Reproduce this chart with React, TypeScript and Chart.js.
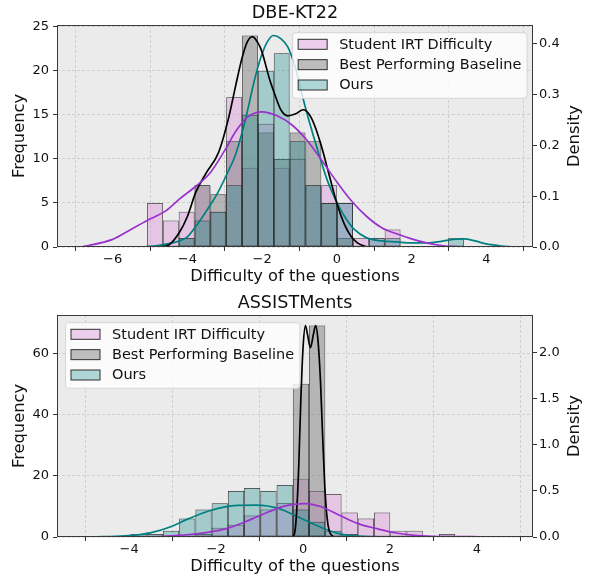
import React, { useEffect, useRef } from "react";
import { Chart, registerables } from "chart.js";

Chart.register(...registerables);

// ---------- shared ----------
const seriesLabels = ["Student IRT Difficulty", "Best Performing Baseline", "Ours"];
const xAxisLabel = "Difficulty of the questions";
const yLeftLabel = "Frequency";
const yRightLabel = "Density";

// ---------- DBE-KT22 ----------
const dbeTitle = "DBE-KT22";
const dbeBinStart = -5.08;
const dbeBinWidth = 0.424;
const dbeStudent = [5, 3, 4, 7, 4, 17, 9, 14, 9, 10, 7, 7, 5, 1, 1, 2, 0, 0, 0, 0];
const dbeBaseline = [0, 0, 1, 7, 6, 12, 24, 13, 10, 13, 12, 5, 1, 0, 0, 0, 0, 0, 0, 0];
const dbeOurs = [0, 0, 1, 3, 4, 7, 15, 20, 22, 12, 7, 5, 5, 0, 1, 1, 0, 0, 0, 1];

const dbeKdeStudentX = [-6.85, -6.0, -5.5, -5.0, -4.6, -4.2, -3.8, -3.4, -3.0, -2.7, -2.4, -2.0, -1.6, -1.2, -0.8, -0.4, 0.0, 0.4, 0.8, 1.2, 1.6, 2.0, 2.4, 2.8, 3.2, 3.5];
const dbeKdeStudentY = [0.0, 0.015, 0.035, 0.055, 0.07, 0.095, 0.118, 0.145, 0.19, 0.228, 0.255, 0.266, 0.258, 0.24, 0.21, 0.17, 0.128, 0.09, 0.06, 0.038, 0.026, 0.016, 0.008, 0.003, 0.001, 0.0];
const dbeKdeBaselineX = [-4.75, -4.5, -4.22, -4.0, -3.78, -3.51, -3.16, -2.9, -2.7, -2.54, -2.4, -2.26, -2.1, -2.01, -1.8, -1.66, -1.5, -1.31, -1.1, -0.9, -0.75, -0.6, -0.42, -0.2, 0.02, 0.2, 0.37, 0.55, 0.8];
const dbeKdeBaselineY = [0.0, 0.004, 0.028, 0.06, 0.107, 0.144, 0.187, 0.253, 0.32, 0.371, 0.403, 0.414, 0.4, 0.385, 0.33, 0.3, 0.27, 0.258, 0.262, 0.27, 0.262, 0.24, 0.2, 0.14, 0.081, 0.045, 0.022, 0.008, 0.0];
const dbeKdeOursX = [-5.2, -4.8, -4.4, -4.0, -3.78, -3.5, -3.2, -2.9, -2.72, -2.5, -2.37, -2.2, -2.01, -1.85, -1.7, -1.5, -1.31, -1.1, -0.95, -0.75, -0.51, -0.25, 0.02, 0.25, 0.46, 0.8, 1.2, 1.6, 2.0, 2.4, 2.8, 3.1, 3.4, 3.7, 4.0, 4.4, 4.7];
const dbeKdeOursY = [0.0, 0.003, 0.008, 0.02, 0.04, 0.07, 0.105, 0.15, 0.18, 0.235, 0.275, 0.33, 0.378, 0.405, 0.416, 0.41, 0.393, 0.35, 0.305, 0.25, 0.19, 0.13, 0.085, 0.055, 0.035, 0.018, 0.012, 0.01, 0.008, 0.008, 0.011, 0.015, 0.016, 0.012, 0.006, 0.002, 0.0];

const dbeXTicks = [-6, -4, -2, 0, 2, 4];
const dbeFreqTicks = [0, 5, 10, 15, 20, 25];
const dbeDensityTicks = [0, 0.1, 0.2, 0.3, 0.4];

// ---------- ASSISTMents ----------
const asTitle = "ASSISTMents";
const asBinStart = -3.97;
const asBinWidth = 0.3735;
const asStudent = [0, 0, 0, 0, 1, 3, 4, 7, 9, 11, 19, 15, 14, 8, 6, 8, 2, 2, 0, 1];
const asBaseline = [0, 0, 0, 0, 0, 0, 0, 0, 0, 0, 50, 69, 0, 0, 0, 0, 0, 0, 0, 0];
const asOurs = [1, 1, 2, 6, 9, 11, 15, 16, 15, 17, 9, 5, 2, 1, 0, 0, 0, 0, 0, 0];

const asKdeStudentX = [-3.75, -3.2, -2.63, -2.2, -1.76, -1.4, -1.07, -0.8, -0.55, -0.25, 0.05, 0.4, 0.84, 1.27, 1.7, 2.14, 2.57, 3.0, 3.44, 3.9, 4.3, 4.78];
const asKdeStudentY = [0.0, 0.008, 0.025, 0.05, 0.09, 0.15, 0.217, 0.27, 0.318, 0.35, 0.362, 0.33, 0.235, 0.145, 0.09, 0.043, 0.018, 0.008, 0.005, 0.003, 0.001, 0.0];
const asKdeBaselineX = [-0.26, -0.2, -0.15, -0.1, -0.05, 0.0, 0.055, 0.1, 0.17, 0.24, 0.29, 0.34, 0.4, 0.45, 0.5, 0.55, 0.6, 0.7];
const asKdeBaselineY = [0.0, 0.03, 0.25, 0.75, 1.5, 2.05, 2.29, 2.2, 2.05, 2.2, 2.29, 2.15, 1.7, 1.1, 0.55, 0.22, 0.07, 0.0];
const asKdeOursX = [-5.18, -4.6, -4.01, -3.49, -3.06, -2.63, -2.11, -1.59, -1.07, -0.55, -0.2, 0.15, 0.49, 0.8, 1.01, 1.4, 1.8, 2.2];
const asKdeOursY = [0.0, 0.004, 0.014, 0.047, 0.108, 0.199, 0.29, 0.34, 0.345, 0.307, 0.235, 0.16, 0.09, 0.04, 0.02, 0.006, 0.001, 0.0];

const asXTicks = [-4, -2, 0, 2, 4];
const asFreqTicks = [0, 20, 40, 60];
const asDensityTicks = [0, 0.5, 1.0, 1.5, 2.0];

// ---------- styles ----------
const FONT = "'DejaVu Sans', 'Liberation Sans', sans-serif";
const barFills = ["rgba(221,160,221,0.5)", "rgba(128,128,128,0.5)", "rgba(0,128,128,0.3)"];
const lineColors = ["#9932cc", "#000000", "#008080"];
const edgeColor = "#2e2e2e";
const gridColor = "rgba(0,0,0,0.15)";
const tickColor = "#333333";
const textColor = "#111111";
const LABEL_SIZE = 16.3;
const TICK_SIZE = 13;
const LEGEND_SIZE = 14.5;
const TITLE_SIZE = 17.6;

type Panel = {
  title: string;
  binStart: number;
  binWidth: number;
  hist: number[][];
  kde: { x: number[]; y: number[] }[];
  xMin: number;
  xMax: number;
  yMax: number;
  y1Max: number;
  xTicks: number[];
  freqTicks: number[];
  densityTicks: number[];
  legendSide: "left" | "right";
};

const panels: Panel[] = [
  {
    title: dbeTitle,
    binStart: dbeBinStart,
    binWidth: dbeBinWidth,
    hist: [dbeStudent, dbeBaseline, dbeOurs],
    kde: [
      { x: dbeKdeStudentX, y: dbeKdeStudentY },
      { x: dbeKdeBaselineX, y: dbeKdeBaselineY },
      { x: dbeKdeOursX, y: dbeKdeOursY },
    ],
    xMin: -7.49,
    xMax: 5.25,
    yMax: 25.2,
    y1Max: 0.4367,
    xTicks: dbeXTicks,
    freqTicks: dbeFreqTicks,
    densityTicks: dbeDensityTicks,
    legendSide: "right",
  },
  {
    title: asTitle,
    binStart: asBinStart,
    binWidth: asBinWidth,
    hist: [asStudent, asBaseline, asOurs],
    kde: [
      { x: asKdeStudentX, y: asKdeStudentY },
      { x: asKdeBaselineX, y: asKdeBaselineY },
      { x: asKdeOursX, y: asKdeOursY },
    ],
    xMin: -5.66,
    xMax: 5.29,
    yMax: 72.45,
    y1Max: 2.405,
    xTicks: asXTicks,
    freqTicks: asFreqTicks,
    densityTicks: asDensityTicks,
    legendSide: "left",
  },
];

const fmtSigned = (v: number) => (v < 0 ? "\u2212" + Math.abs(v) : String(v));

const decorPlugin = {
  id: "decor",
  beforeDraw(chart: any) {
    const { ctx, chartArea: a } = chart;
    ctx.save();
    ctx.fillStyle = "#ffffff";
    ctx.fillRect(0, 0, chart.width, chart.height);
    ctx.fillStyle = "#ebebeb";
    ctx.fillRect(a.left, a.top, a.right - a.left, a.bottom - a.top);
    ctx.restore();
  },
  afterDraw(chart: any, _args: any, opts: any) {
    const { ctx, chartArea: a } = chart;
    ctx.save();
    // spines
    ctx.strokeStyle = "#3a3a3a";
    ctx.lineWidth = 1;
    ctx.strokeRect(a.left + 0.5, a.top + 0.5, a.right - a.left - 1, a.bottom - a.top - 1);

    // title
    ctx.fillStyle = textColor;
    ctx.font = `${TITLE_SIZE}px ${FONT}`;
    ctx.textAlign = "center";
    ctx.textBaseline = "middle";
    ctx.fillText(opts.title, (a.left + a.right) / 2, 13.5);

    // right axis label (reads bottom to top)
    ctx.save();
    ctx.font = `${LABEL_SIZE}px ${FONT}`;
    ctx.translate(575, (a.top + a.bottom) / 2);
    ctx.rotate(-Math.PI / 2);
    ctx.fillText(yRightLabel, 0, 0);
    ctx.restore();

    // legend
    ctx.font = `${LEGEND_SIZE}px ${FONT}`;
    const tw = Math.max(...seriesLabels.map((l) => ctx.measureText(l).width));
    const w = 5.5 + 29 + 12 + tw + 5.7;
    const h = 65.6;
    const x0 = opts.legendSide === "right" ? a.right - 6 - w : a.left + 8.5;
    const y0 = a.top + 7.7;
    const r = 3;
    ctx.beginPath();
    ctx.moveTo(x0 + r, y0);
    ctx.lineTo(x0 + w - r, y0);
    ctx.arcTo(x0 + w, y0, x0 + w, y0 + r, r);
    ctx.lineTo(x0 + w, y0 + h - r);
    ctx.arcTo(x0 + w, y0 + h, x0 + w - r, y0 + h, r);
    ctx.lineTo(x0 + r, y0 + h);
    ctx.arcTo(x0, y0 + h, x0, y0 + h - r, r);
    ctx.lineTo(x0, y0 + r);
    ctx.arcTo(x0, y0, x0 + r, y0, r);
    ctx.closePath();
    ctx.fillStyle = "rgba(255,255,255,0.8)";
    ctx.fill();
    ctx.strokeStyle = "#d6d6d6";
    ctx.lineWidth = 1;
    ctx.stroke();

    ctx.textAlign = "left";
    ctx.textBaseline = "middle";
    seriesLabels.forEach((label, i) => {
      const cy = y0 + 11.6 + i * 20.35;
      ctx.fillStyle = barFills[i];
      ctx.fillRect(x0 + 5.5, cy - 5, 29, 10);
      ctx.strokeStyle = edgeColor;
      ctx.lineWidth = 1;
      ctx.strokeRect(x0 + 5.5, cy - 5, 29, 10);
      ctx.fillStyle = textColor;
      ctx.fillText(label, x0 + 46.5, cy + 0.5);
    });
    ctx.restore();
  },
};

function buildConfig(p: Panel): any {
  const centers = p.hist[0].map((_, i) => p.binStart + p.binWidth * (i + 0.5));
  const barOrders = [3, 2, 1];
  const barSets = p.hist.map((vals, s) => ({
    type: "bar",
    label: seriesLabels[s],
    data: vals
      .map((v, i) => ({ x: centers[i], y: v }))
      .filter((d) => d.y > 0),
    backgroundColor: barFills[s],
    borderColor: edgeColor,
    borderWidth: 0.75,
    borderSkipped: false,
    inflateAmount: 0,
    grouped: false,
    barPercentage: 1,
    categoryPercentage: 1,
    order: barOrders[s],
    xAxisID: "x",
    yAxisID: "y",
  }));
  const lineSets = p.kde.map((k, s) => ({
    type: "line",
    label: seriesLabels[s] + " KDE",
    data: k.x.map((x, i) => ({ x, y: k.y[i] })),
    borderColor: lineColors[s],
    borderWidth: 1.7,
    pointRadius: 0,
    fill: false,
    cubicInterpolationMode: "monotone",
    order: 0,
    xAxisID: "x",
    yAxisID: "y1",
  }));

  const gridBase = {
    color: gridColor,
    lineWidth: 0.8,
    drawTicks: true,
    tickLength: 4,
    tickColor: tickColor,
    tickWidth: 1,
    tickBorderDash: [],
  };

  return {
    type: "bar",
    data: { datasets: [...lineSets, ...barSets] },
    plugins: [decorPlugin],
    options: {
      responsive: false,
      animation: false,
      devicePixelRatio: 1,
      events: [],
      layout: { padding: { top: 25, left: 0, right: 0, bottom: 0 } },
      plugins: {
        legend: { display: false },
        tooltip: { enabled: false },
        title: { display: false },
        decor: { title: p.title, legendSide: p.legendSide },
      },
      scales: {
        x: {
          type: "linear",
          position: "bottom",
          min: p.xMin,
          max: p.xMax,
          offset: false,
          afterBuildTicks: (s: any) => {
            s.ticks = p.xTicks.map((v) => ({ value: v }));
          },
          afterFit: (s: any) => {
            s.height = 43;
          },
          ticks: {
            callback: (v: number) => fmtSigned(v),
            font: { family: FONT, size: TICK_SIZE },
            color: textColor,
            padding: 1,
            maxRotation: 0,
            autoSkip: false,
          },
          grid: { ...gridBase },
          border: { display: false, dash: [3, 2] },
          title: {
            display: true,
            text: xAxisLabel,
            font: { family: FONT, size: LABEL_SIZE },
            color: textColor,
            padding: { top: 0, bottom: 3.2 },
          },
        },
        y: {
          type: "linear",
          position: "left",
          min: 0,
          max: p.yMax,
          afterBuildTicks: (s: any) => {
            s.ticks = p.freqTicks.map((v) => ({ value: v }));
          },
          afterFit: (s: any) => {
            s.width = 57;
          },
          ticks: {
            callback: (v: number) => String(v),
            font: { family: FONT, size: TICK_SIZE },
            color: textColor,
            padding: 4,
          },
          grid: { ...gridBase },
          border: { display: false, dash: [3, 2] },
          title: {
            display: true,
            text: yLeftLabel,
            font: { family: FONT, size: LABEL_SIZE },
            color: textColor,
            padding: { top: 9.7, bottom: 0 },
          },
        },
        y1: {
          type: "linear",
          position: "right",
          min: 0,
          max: p.y1Max,
          afterBuildTicks: (s: any) => {
            s.ticks = p.densityTicks.map((v) => ({ value: v }));
          },
          afterFit: (s: any) => {
            s.width = 59;
          },
          ticks: {
            callback: (v: number) => v.toFixed(1),
            font: { family: FONT, size: TICK_SIZE },
            color: textColor,
            padding: 2,
          },
          grid: { ...gridBase, drawOnChartArea: false },
          border: { display: false },
          title: { display: false },
        },
      },
    },
  };
}

function HistPanel({ panel }: { panel: Panel }) {
  const ref = useRef<HTMLCanvasElement | null>(null);
  useEffect(() => {
    if (!ref.current) return;
    const chart = new Chart(ref.current, buildConfig(panel));
    return () => chart.destroy();
  }, [panel]);
  return (
    <canvas
      ref={ref}
      width={592}
      height={290}
      style={{ display: "block", width: 592, height: 290 }}
    />
  );
}

export default function App() {
  return (
    <div
      style={{
        position: "absolute",
        left: 0,
        top: 0,
        width: 592,
        height: 579,
        overflow: "hidden",
        background: "#ffffff",
      }}
    >
      <HistPanel panel={panels[0]} />
      <HistPanel panel={panels[1]} />
    </div>
  );
}
